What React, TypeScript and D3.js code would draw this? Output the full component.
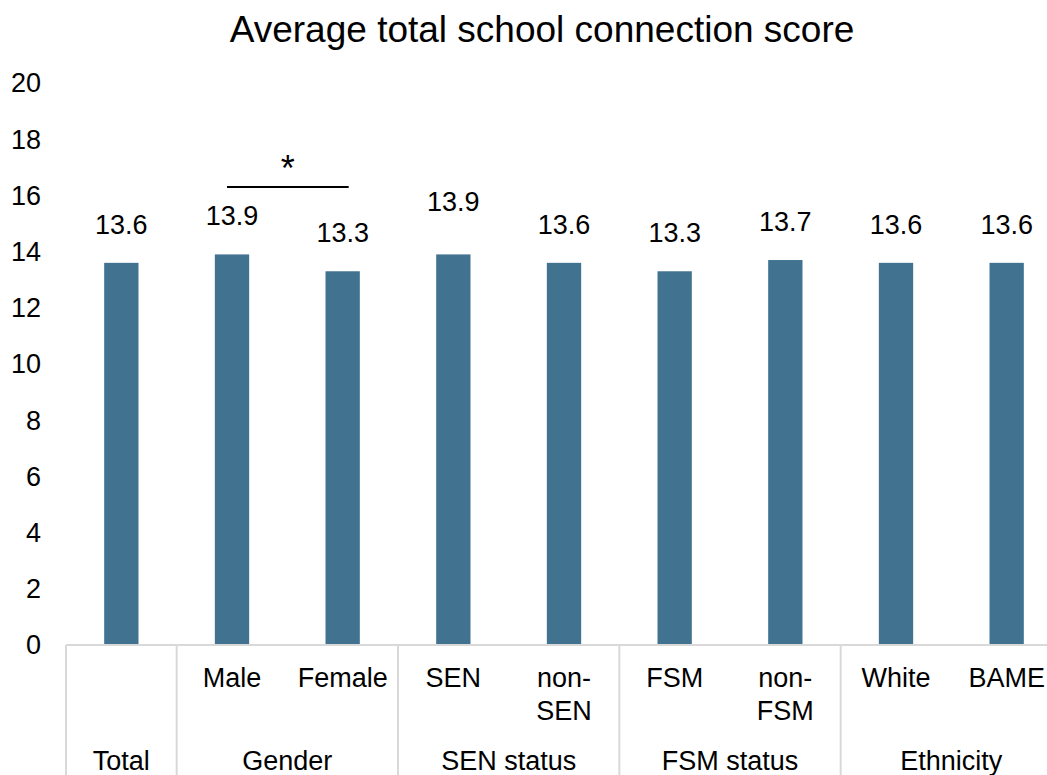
import React from 'react';
import * as d3 from 'd3';

// Chart data
const categories = ['Total', 'Male', 'Female', 'SEN', 'non-SEN', 'FSM', 'non-FSM', 'White', 'BAME'];
const scores = [13.6, 13.9, 13.3, 13.9, 13.6, 13.3, 13.7, 13.6, 13.6];
const subLabels = ['', 'Male', 'Female', 'SEN', 'non-|SEN', 'FSM', 'non-|FSM', 'White', 'BAME'];
const groupNames = ['Total', 'Gender', 'SEN status', 'FSM status', 'Ethnicity'];
const groupSizes = [1, 2, 2, 2, 2];
const yTicks = [0, 2, 4, 6, 8, 10, 12, 14, 16, 18, 20];
const sigPairs: [string, string][] = [['Male', 'Female']];

const W = 1047;
const H = 775;
const FONT = '"Liberation Sans", Arial, sans-serif';
const BAR = '#417391';
const GRID = '#d9d9d9';

const App: React.FC = () => {
  const margin = { top: 83, left: 66, right: 1062, bottom: 645 };

  const x = d3
    .scaleBand<string>()
    .domain(categories)
    .range([margin.left, margin.right])
    .paddingInner(0.69)
    .paddingOuter(0.345);

  const y = d3.scaleLinear().domain([0, 20]).range([margin.bottom, margin.top]);

  const step = x.step();
  const bw = x.bandwidth();

  // Group boundaries along the axis
  const bounds: number[] = [0];
  groupSizes.forEach((s, i) => bounds.push(bounds[i] + s));

  // Manual label nudges (Excel-style adjusted labels)
  const labelNudge: Record<string, number> = { SEN: -14 };

  return (
    <svg
      width={W}
      height={H}
      style={{ position: 'absolute', left: 0, top: 0, background: '#fff' }}
      fontFamily={FONT}
    >
      <text x={542} y={42} textAnchor="middle" fontSize={37} fill="#000">
        Average total school connection score
      </text>

      {/* Y axis labels */}
      {yTicks.map(t => (
        <text key={t} x={41} y={y(t)} dy="0.35em" textAnchor="end" fontSize={27} fill="#000">
          {t}
        </text>
      ))}

      {/* Bars */}
      {categories.map((c, i) => (
        <rect key={c} x={x(c)} y={y(scores[i])} width={bw} height={y(0) - y(scores[i])} fill={BAR} />
      ))}

      {/* Value labels */}
      {categories.map((c, i) => (
        <text
          key={c}
          x={(x(c) || 0) + bw / 2}
          y={y(scores[i]) - 29 + (labelNudge[c] || 0)}
          textAnchor="middle"
          fontSize={27}
          fill="#000"
        >
          {scores[i].toFixed(1)}
        </text>
      ))}

      {/* Significance markers */}
      {sigPairs.map(([a, b]) => {
        const x1 = (x(a) || 0) + bw / 2 - 5;
        const x2 = (x(b) || 0) + bw / 2 + 6;
        const ly = 187;
        return (
          <g key={a + b}>
            <line x1={x1} x2={x2} y1={ly} y2={ly} stroke="#000" strokeWidth={2} />
            <text x={(x1 + x2) / 2} y={ly - 6} textAnchor="middle" fontSize={36} fill="#000">
              *
            </text>
          </g>
        );
      })}

      {/* X axis line */}
      <line x1={margin.left} x2={margin.right} y1={y(0)} y2={y(0)} stroke={GRID} strokeWidth={2} />

      {/* Group separators */}
      {bounds.map(b => (
        <line
          key={b}
          x1={margin.left + b * step}
          x2={margin.left + b * step}
          y1={y(0)}
          y2={H}
          stroke={GRID}
          strokeWidth={2}
        />
      ))}

      {/* Category labels */}
      {categories.map((c, i) => (
        <text key={c} x={(x(c) || 0) + bw / 2} y={687} textAnchor="middle" fontSize={27} fill="#000">
          {subLabels[i].split('|').map((ln, j) => (
            <tspan key={j} x={(x(c) || 0) + bw / 2} dy={j === 0 ? 0 : 33}>
              {ln}
            </tspan>
          ))}
        </text>
      ))}

      {/* Group labels */}
      {groupNames.map((g, i) => (
        <text
          key={g}
          x={margin.left + ((bounds[i] + bounds[i + 1]) / 2) * step}
          y={770}
          textAnchor="middle"
          fontSize={27}
          fill="#000"
        >
          {g}
        </text>
      ))}
    </svg>
  );
};

export default App;
